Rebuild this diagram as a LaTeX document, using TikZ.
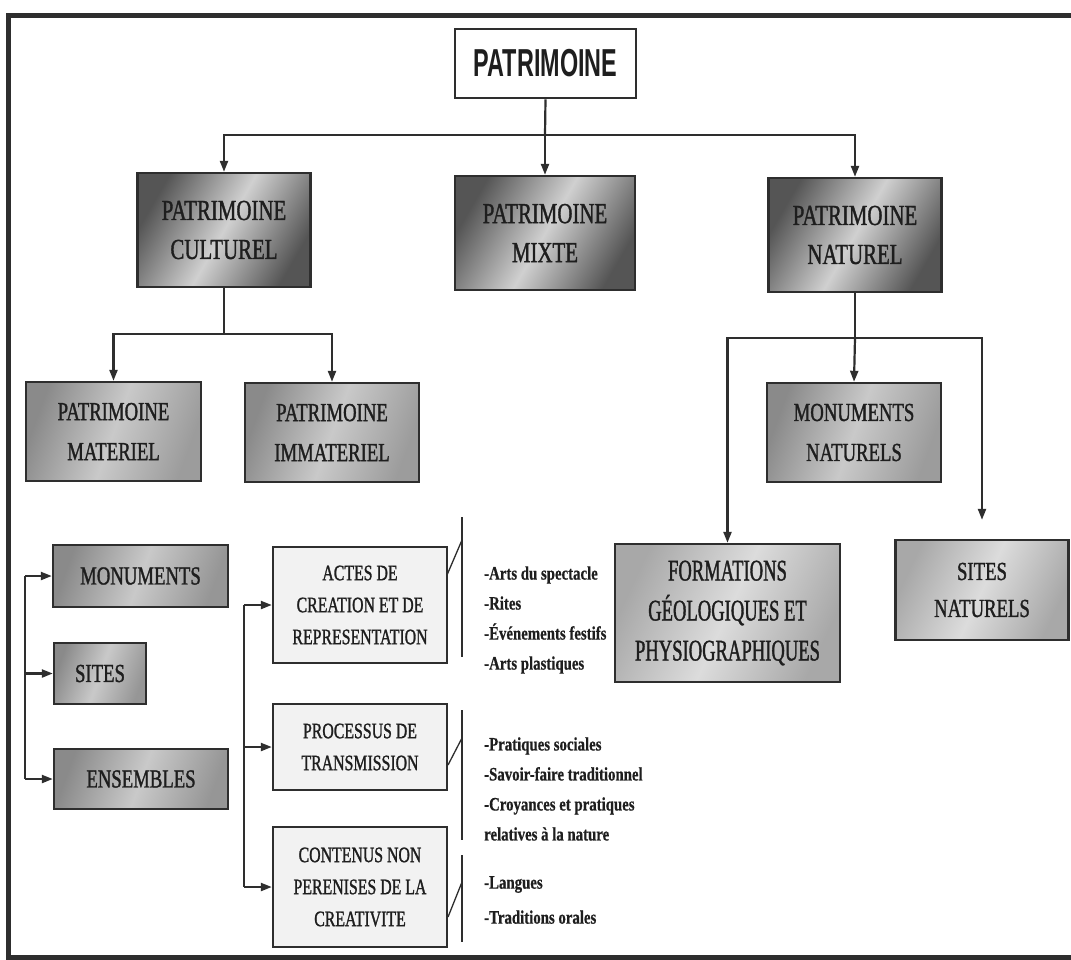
\documentclass[tikz,border=0pt]{standalone}
\usepackage{fontspec}
\usetikzlibrary{arrows.meta}
\newfontfamily\condf[FakeStretch=0.72,FakeBold=1.2]{Liberation Serif}
\newfontfamily\condg[FakeStretch=0.62,FakeBold=1.2]{Liberation Serif}
\newfontfamily\listf[FakeStretch=0.78,FakeBold=0.6]{Liberation Serif}
\newfontfamily\titlef[FakeStretch=0.6]{Liberation Sans}
\definecolor{linec}{HTML}{2E2E2E}
\definecolor{textc}{HTML}{1E1E1E}
\definecolor{dk}{HTML}{555555}
\definecolor{dklight}{HTML}{D0D0D0}
\definecolor{md}{HTML}{8A8A8A}
\definecolor{mdlight}{HTML}{C9C9C9}
\definecolor{lt}{HTML}{A8A8A8}
\definecolor{ltlight}{HTML}{DCDCDC}
\definecolor{pale}{HTML}{F2F2F2}
\tikzset{
  box/.style={draw=linec, line width=2.4pt, inner sep=2pt, align=center, text=textc},
  darkbox/.style={box, left color=dk, right color=dk, middle color=dklight, shading angle=60,
     font=\condf\fontsize{29}{39}\selectfont},
  midbox/.style={box, left color=md, right color=md!85, middle color=mdlight, shading angle=70,
     font=\condf\fontsize{26}{40}\selectfont},
  smallbox/.style={box, left color=md, right color=md!90, middle color=mdlight, shading angle=70,
     font=\condf\fontsize{26}{38}\selectfont},
  ltbox/.style={box, left color=lt, right color=lt, middle color=ltlight, shading angle=65,
     font=\condf\fontsize{26}{37}\selectfont},
  palebox/.style={box, fill=pale, font=\condf\fontsize{22}{32}\selectfont},
  arr/.style={draw=linec, line width=2.2pt, -{Triangle[length=11pt,width=8pt]}},
  plain/.style={draw=linec, line width=2.2pt},
  thinl/.style={draw=linec, line width=1.3pt},
  listtxt/.style={anchor=west, inner sep=0pt, align=left, text=textc,
     font=\listf\bfseries\fontsize{19}{30}\selectfont}
}
\begin{document}
\begin{tikzpicture}[x=1pt,y=-1pt]
\useasboundingbox (0,0) rectangle (1071,959);
\fill[white] (0,0) rectangle (1071,959);
\draw[line width=5pt, color=linec, line cap=rect] (1071,15) -- (8,15) -- (8,957) -- (1071,957);

% nodes
\node[box, fill=white, line width=2.8pt, minimum width=181pt, minimum height=69pt,
      font=\titlef\bfseries\fontsize{39}{40}\selectfont] (title) at (545.5,63.5) {PATRIMOINE};

\node[darkbox, minimum width=173pt, minimum height=114pt] (cult) at (224,230) {PATRIMOINE\\CULTUREL};
\node[darkbox, minimum width=180pt, minimum height=114pt] (mixte) at (545,233) {PATRIMOINE\\MIXTE};
\node[darkbox, minimum width=173pt, minimum height=114pt] (nat) at (855,235) {PATRIMOINE\\NATUREL};

\node[midbox, minimum width=175pt, minimum height=99pt] (mat) at (113.5,431.5) {PATRIMOINE\\MATERIEL};
\node[midbox, minimum width=174pt, minimum height=99pt] (immat) at (332,432.5) {PATRIMOINE\\IMMATERIEL};
\node[midbox, minimum width=174pt, minimum height=99pt] (monnat) at (854,432.5) {MONUMENTS\\NATURELS};

\node[smallbox, minimum width=175pt, minimum height=62pt] (monu) at (140.5,576) {MONUMENTS};
\node[smallbox, minimum width=92pt, minimum height=61pt] (sites) at (100,673.5) {SITES};
\node[smallbox, minimum width=174pt, minimum height=60pt] (ens) at (141,779) {ENSEMBLES};

\node[palebox, minimum width=174pt, minimum height=116pt] (actes) at (360,605) {ACTES DE\\CREATION ET DE\\REPRESENTATION};
\node[palebox, minimum width=174pt, minimum height=86pt] (proc) at (360,747) {PROCESSUS DE\\TRANSMISSION};
\node[palebox, minimum width=174pt, minimum height=120pt] (cont) at (360,887) {CONTENUS NON\\PERENISES DE LA\\CREATIVITE};

\node[ltbox, minimum width=225pt, minimum height=138pt,
      font=\condg\fontsize{30}{40}\selectfont] (form) at (727.5,613) {FORMATIONS\\GÉOLOGIQUES ET\\PHYSIOGRAPHIQUES};
\node[ltbox, minimum width=173pt, minimum height=100pt] (sitesnat) at (982,590) {SITES\\NATURELS};

% lists
\node[listtxt] (l1) at (484,620) {-Arts du spectacle\\-Rites\\-Événements festifs\\-Arts plastiques};
\node[listtxt] (l2) at (484,789) {-Pratiques sociales\\-Savoir-faire traditionnel\\-Croyances et pratiques\\relatives à la nature};
\node[listtxt, font=\listf\bfseries\fontsize{19}{35}\selectfont] (l3) at (484,900) {-Langues\\-Traditions orales};

% top level connectors
\coordinate (j1) at (545,135);
\draw[plain] (title.south) -- (j1);
\draw[arr] (j1) -| (cult.north);
\draw[arr] (j1) -- (mixte.north);
\draw[arr] (j1) -| (nat.north);

\coordinate (j2) at (224,334);
\draw[plain] (cult.south) -- (j2);
\draw[arr] (j2) -| (mat.north);
\draw[arr] (j2) -| (immat.north);

\coordinate (j3) at (855,338);
\draw[plain] (nat.south) -- (j3);
\draw[arr] (j3) -- (monnat.north);
\draw[arr] (j3) -| (form.north);
\draw[arr, shorten >=19pt] (j3) -| (sitesnat.north);

% left bracket
\coordinate (bt) at (25,576);
\coordinate (bb) at (25,779);
\draw[plain] (bt) -- (bb);
\draw[arr] (bt) -- (monu.west);
\draw[arr] (bt |- sites.west) -- (sites.west);
\draw[arr] (bb) -- (ens.west);

% second bracket
\coordinate (ct) at (244,605);
\coordinate (cb) at (244,887);
\draw[plain] (ct) -- (cb);
\draw[arr] (ct) -- (actes.west);
\draw[arr] (ct |- proc.west) -- (proc.west);
\draw[arr] (cb) -- (cont.west);

% side braces
\draw[thinl] (462,517) -- (462,657);
\draw[thinl] (447,575) -- (462,540);
\draw[thinl] (462,710) -- (462,840);
\draw[thinl] (448,765) -- (462,738);
\draw[thinl] (462,855) -- (462,942);
\draw[thinl] (448,917) -- (462,882);
\end{tikzpicture}
\end{document}
